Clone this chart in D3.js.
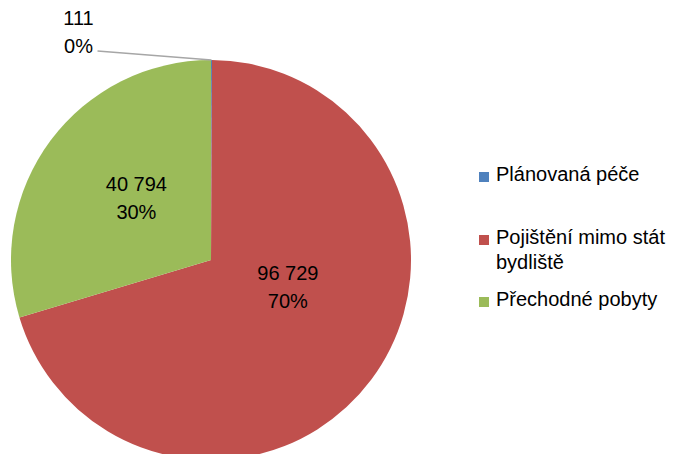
<!DOCTYPE html>
<html>
<head>
<meta charset="utf-8">
<script src="https://cdn.jsdelivr.net/npm/d3@7"></script>
<style>
  body { margin: 0; background: #fff; }
  svg { display: block; }
  text { font-family: "Liberation Sans", Arial, sans-serif; fill: #000; }
</style>
</head>
<body>
<div id="chart"></div>
<script>
// data
var categories = ["Plánovaná péče", "Pojištění mimo stát bydliště", "Přechodné pobyty"];
var values = [111, 96729, 40794];
var valueLabels = ["111", "96 729", "40 794"];
var colors = ["#4F81BD", "#C0504D", "#9BBB59"];
var legendLines = [["Plánovaná péče"], ["Pojištění mimo stát", "bydliště"], ["Přechodné pobyty"]];

var width = 675,
    height = 454,
    cx = 211,
    cy = 260,
    radius = 200,
    fontSize = 20;

// label placement (Excel "best fit" look): radius factor + angle nudge in degrees
var labelFit = [null, { r: 0.42, da: -13 }, { r: 0.465, da: 0 }];

var svg = d3.select("#chart").append("svg")
    .attr("width", width)
    .attr("height", height);

var total = d3.sum(values);
var data = categories.map(function(c, i) {
    return { name: c, value: values[i], label: valueLabels[i], color: colors[i] };
});

var pie = d3.pie()
    .sort(null)
    .value(function(d) { return d.value; });

var arc = d3.arc().innerRadius(0).outerRadius(radius);

var g = svg.append("g").attr("transform", "translate(" + cx + "," + cy + ")");

var arcs = pie(data);

g.selectAll("path")
    .data(arcs)
    .enter()
    .append("path")
    .attr("d", arc)
    .style("fill", function(d) { return d.data.color; })
    .style("stroke", "none");

function pct(d) {
    return Math.round(d.data.value / total * 100) + "%";
}

// inside labels
arcs.forEach(function(d, i) {
    var fit = labelFit[i];
    if (!fit) return;
    var a = (d.startAngle + d.endAngle) / 2 + fit.da * Math.PI / 180;
    var r = radius * fit.r;
    var x = Math.sin(a) * r,
        y = -Math.cos(a) * r;
    var t = g.append("text")
        .attr("text-anchor", "middle")
        .style("font-size", fontSize + "px");
    t.append("tspan").attr("x", x).attr("y", y - 14).text(d.data.label);
    t.append("tspan").attr("x", x).attr("y", y + 14).text(pct(d));
});

// the tiny slice gets an outside label with a leader line
var small = arcs[0];
var sa = (small.startAngle + small.endAngle) / 2;
var edge = [Math.sin(sa) * radius, -Math.cos(sa) * radius];
var lineEnd = [edge[0] - 114, edge[1] - 9];

g.append("line")
    .attr("x1", edge[0]).attr("y1", edge[1])
    .attr("x2", lineEnd[0]).attr("y2", lineEnd[1])
    .style("stroke", "#A6A6A6")
    .style("stroke-width", 1.5);

var st = g.append("text")
    .attr("text-anchor", "middle")
    .style("font-size", fontSize + "px");
st.append("tspan").attr("x", lineEnd[0] - 19).attr("y", lineEnd[1] - 26).text(small.data.label);
st.append("tspan").attr("x", lineEnd[0] - 19).attr("y", lineEnd[1] + 2).text(pct(small));

// legend
var legendY = [172, 235, 297];
var legend = svg.append("g").attr("transform", "translate(479,0)");

var item = legend.selectAll("g")
    .data(data)
    .enter()
    .append("g")
    .attr("transform", function(d, i) { return "translate(0," + legendY[i] + ")"; });

item.append("rect")
    .attr("width", 10)
    .attr("height", 10)
    .style("fill", function(d) { return d.color; });

item.append("text")
    .style("font-size", fontSize + "px")
    .each(function(d, i) {
        var t = d3.select(this);
        legendLines[i].forEach(function(line, j) {
            t.append("tspan").attr("x", 17).attr("y", 9 + j * 25).text(line);
        });
    });
</script>
</body>
</html>
